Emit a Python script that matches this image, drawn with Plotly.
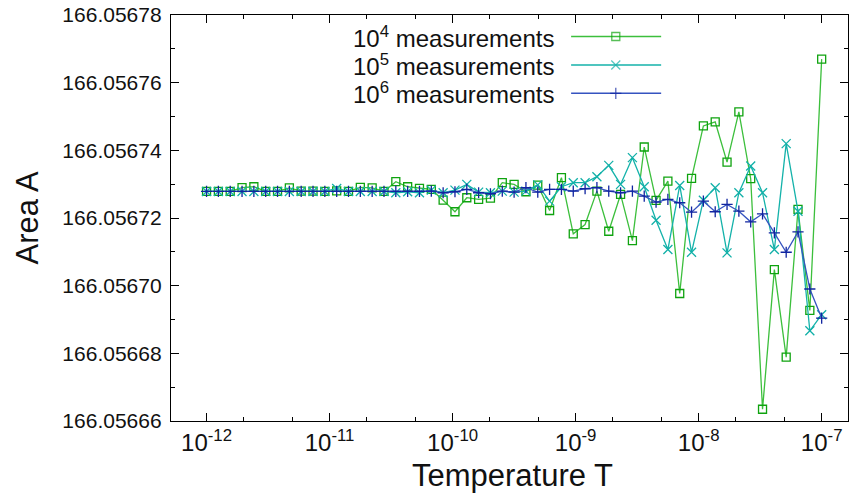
import numpy as np
import plotly.graph_objects as go

# Temperatures: 53 log-spaced points from 1e-12 to 1e-7
temperature = np.logspace(-12, -7, 53)

area_1e4 = [166.05672785, 166.05672785, 166.05672785, 166.05672895, 166.05672924,
            166.05672785, 166.05672785, 166.05672889, 166.05672794, 166.05672794,
            166.05672785, 166.05672800, 166.05672785, 166.05672904, 166.05672889,
            166.05672785, 166.05673073, 166.05672924, 166.05672874, 166.05672844,
            166.05672527, 166.05672184, 166.05672599, 166.05672548, 166.05672587,
            166.05673043, 166.05672993, 166.05672776, 166.05672972, 166.05672222,
            166.05673191, 166.05671532, 166.05671807, 166.05672794, 166.05671609,
            166.05672696, 166.05671333, 166.05674098, 166.05672519, 166.05673090,
            166.05669769, 166.05673170, 166.05674720, 166.05674839, 166.05673653,
            166.05675135, 166.05673161, 166.05666347, 166.05670474, 166.05667887,
            166.05672252, 166.05669268, 166.05676696]

area_1e5 = [166.05672785, 166.05672785, 166.05672785, 166.05672785, 166.05672785,
            166.05672785, 166.05672785, 166.05672785, 166.05672785, 166.05672785,
            166.05672785, 166.05672874, 166.05672785, 166.05672785, 166.05672785,
            166.05672785, 166.05672747, 166.05672776, 166.05672747, 166.05672824,
            166.05672747, 166.05672824, 166.05672993, 166.05672764, 166.05672747,
            166.05672794, 166.05672764, 166.05672794, 166.05672978, 166.05672498,
            166.05672924, 166.05673043, 166.05673043, 166.05673221, 166.05673556,
            166.05672993, 166.05673784, 166.05672924, 166.05671935, 166.05671067,
            166.05672963, 166.05670987, 166.05672527, 166.05672895, 166.05670969,
            166.05672747, 166.05673535, 166.05672747, 166.05671067, 166.05674199,
            166.05672202, 166.05668667, 166.05669141]

area_1e6 = [166.05672785, 166.05672785, 166.05672785, 166.05672785, 166.05672785,
            166.05672785, 166.05672785, 166.05672785, 166.05672785, 166.05672785,
            166.05672785, 166.05672785, 166.05672785, 166.05672785, 166.05672785,
            166.05672785, 166.05672785, 166.05672785, 166.05672785, 166.05672794,
            166.05672747, 166.05672776, 166.05672844, 166.05672747, 166.05672717,
            166.05672794, 166.05672764, 166.05672895, 166.05672764, 166.05672844,
            166.05672844, 166.05672794, 166.05672865, 166.05672895, 166.05672794,
            166.05672747, 166.05672794, 166.05672646, 166.05672468, 166.05672548,
            166.05672450, 166.05672172, 166.05672498, 166.05672184, 166.05672400,
            166.05672202, 166.05671887, 166.05672124, 166.05671561, 166.05670987,
            166.05671591, 166.05669902, 166.05669043]

series_names = ["10<sup>4</sup> measurements", "10<sup>5</sup> measurements", "10<sup>6</sup> measurements"]
line_colors = ["#3cbf3c", "#14b2aa", "#3553c0"]
marker_colors = ["#0fa30f", "#12b0a8", "#1024a0"]
symbols = ["square-open", "x-thin-open", "cross-thin-open"]
marker_sizes = [8, 9, 8]

x_tick_vals = [1e-12, 1e-11, 1e-10, 1e-9, 1e-8, 1e-7]
x_tick_text = ["10<sup>-12</sup>", "10<sup>-11</sup>", "10<sup>-10</sup>",
               "10<sup>-9</sup>", "10<sup>-8</sup>", "10<sup>-7</sup>"]
y_tick_vals = [166.05666, 166.05668, 166.05670, 166.05672, 166.05674, 166.05676, 166.05678]

FONT = "Liberation Sans, Arial, Helvetica, sans-serif"

fig = go.Figure()
for vals, name, lc, mc, sym, ms in zip([area_1e4, area_1e5, area_1e6], series_names,
                                      line_colors, marker_colors, symbols, marker_sizes):
    fig.add_trace(go.Scatter(
        x=temperature, y=vals, mode="lines+markers", name=name,
        line=dict(color=lc, width=1.3),
        marker=dict(symbol=sym, size=ms, color=mc, line=dict(color=mc, width=1.3)),
        showlegend=False,
    ))

# gnuplot-style key: text on the left, sample line with marker on the right
legend_rows = [0.947, 0.877, 0.807]
for name, lc, mc, sym, ms, yy in zip(series_names, line_colors, marker_colors, symbols,
                                     marker_sizes, legend_rows):
    fig.add_trace(go.Scatter(
        x=[0.591, 0.657, 0.724], y=[yy, yy, yy], xaxis="x2", yaxis="y2",
        mode="lines+markers", showlegend=False, hoverinfo="skip",
        line=dict(color=lc, width=1.5),
        marker=dict(symbol=sym, size=[0, ms, 0], color=mc, line=dict(color=mc, width=1.3)),
    ))
    fig.add_annotation(x=0.569, y=yy, xref="x2", yref="y2", text=name, showarrow=False,
                       xanchor="right", yanchor="middle",
                       font=dict(family=FONT, size=24, color="#111"))

fig.add_annotation(x=-0.212, y=0.5, xref="paper", yref="paper", text="Area A", showarrow=False,
                   textangle=-90, xanchor="center", yanchor="middle",
                   font=dict(family=FONT, size=31, color="#111"))
fig.add_annotation(x=0.505, y=-0.135, xref="paper", yref="paper", text="Temperature T",
                   showarrow=False, xanchor="center", yanchor="middle",
                   font=dict(family=FONT, size=31, color="#111"))

fig.update_layout(
    width=850, height=498,
    margin=dict(l=171, r=2, t=15, b=77),
    paper_bgcolor="white", plot_bgcolor="white",
    font=dict(family=FONT, size=21, color="#111"),
    xaxis=dict(type="log", range=[-12.289, -6.786], tickvals=x_tick_vals, ticktext=x_tick_text,
               ticks="inside", ticklen=8, tickwidth=1, tickcolor="black",
               showline=True, linecolor="black", linewidth=1.3, mirror="allticks",
               showgrid=False, zeroline=False,
               minor=dict(ticks="inside", ticklen=4, tickcolor="black", showgrid=False),
               tickfont=dict(family=FONT, size=24, color="#111")),
    yaxis=dict(range=[166.05666, 166.05678], tickvals=y_tick_vals, tickformat=".5f",
               ticks="inside", ticklen=8, tickwidth=1, tickcolor="black",
               showline=True, linecolor="black", linewidth=1.3, mirror="allticks",
               showgrid=False, zeroline=False, ticklabelstandoff=4,
               minor=dict(dtick=0.00001, ticks="inside", ticklen=4, tickcolor="black",
                          showgrid=False),
               tickfont=dict(family=FONT, size=21, color="#111")),
    xaxis2=dict(overlaying="x", range=[0, 1], visible=False, fixedrange=True),
    yaxis2=dict(overlaying="y", range=[0, 1], visible=False, fixedrange=True),
)

fig.write_html("out.html")
